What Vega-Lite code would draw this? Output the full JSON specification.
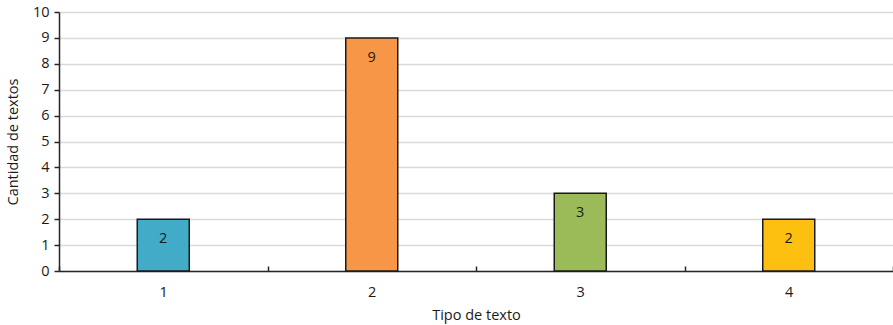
{
  "$schema": "https://vega.github.io/schema/vega-lite/v6.json",
  "autosize": "none",
  "width": 834,
  "height": 259,
  "padding": {"left": 59, "top": 12, "right": 0, "bottom": 54},
  "background": "white",
  "config": {
    "view": {"stroke": null},
    "font": "Open Sans",
    "axis": {"labelFont": "Open Sans", "titleFont": "Open Sans", "labelFontSize": 14.5, "titleFontSize": 14.5, "titleFontWeight": "normal", "labelColor": "#1a1a1a", "titleColor": "#1a1a1a"}
  },
  "data": {"values": [
    {"tipo": "1", "cantidad": 2, "color": "#41ABC8"},
    {"tipo": "2", "cantidad": 9, "color": "#F79646"},
    {"tipo": "3", "cantidad": 3, "color": "#9BBB59"},
    {"tipo": "4", "cantidad": 2, "color": "#FDC010"}
  ]},
  "encoding": {
    "x": {"field": "tipo", "type": "ordinal", "title": "Tipo de texto",
      "scale": {"paddingInner": 0, "paddingOuter": 0},
      "axis": {"labelAngle": 0, "tickBand": "extent", "tickSize": -5, "tickColor": "#262626", "tickWidth": 1.5, "domainColor": "#262626", "domainWidth": 1.5, "labelPadding": 19, "titlePadding": 10, "grid": false}},
    "y": {"field": "cantidad", "type": "quantitative", "title": "Cantidad de textos",
      "scale": {"domain": [0, 10], "nice": false},
      "axis": {"values": [0,1,2,3,4,5,6,7,8,9,10], "tickSize": 5, "tickColor": "#262626", "tickWidth": 1.5, "domainColor": "#262626", "domainWidth": 1.5, "gridColor": "#d9d9d9", "gridWidth": 1.5, "labelPadding": 5, "titlePadding": 12}}
  },
  "layer": [
    {"mark": {"type": "bar", "size": 52, "stroke": "#1a1a1a", "strokeWidth": 1.5},
     "encoding": {"color": {"field": "color", "type": "nominal", "scale": null, "legend": null}}},
    {"mark": {"type": "text", "fontSize": 14.5, "baseline": "middle", "dy": 20, "color": "#1a1a1a", "font": "Open Sans"},
     "encoding": {"text": {"field": "cantidad", "type": "quantitative"}}}
  ]
}
